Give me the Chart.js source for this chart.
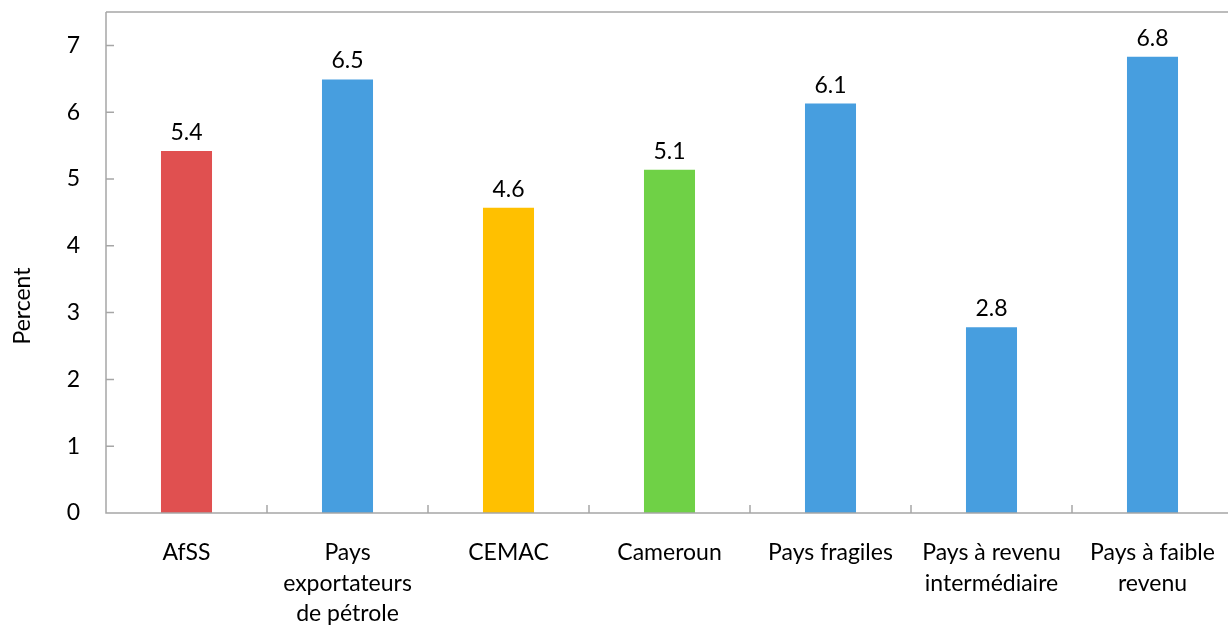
<!DOCTYPE html>
<html>
<head>
<meta charset="utf-8">
<script src="https://cdn.jsdelivr.net/npm/chart.js@4/dist/chart.umd.min.js"></script>
<style>
  html, body { margin: 0; padding: 0; background: #fff; overflow: hidden; }
  #wrap { width: 1240px; height: 627px; }
</style>
</head>
<body>
<div id="wrap"><canvas id="chart"></canvas></div>
<script>
// Data
const categories = [
  'AfSS',
  ['Pays', 'exportateurs', 'de pétrole'],
  'CEMAC',
  'Cameroun',
  'Pays fragiles',
  ['Pays à revenu', 'intermédiaire'],
  ['Pays à faible', 'revenu']
];
const values = [5.42, 6.49, 4.57, 5.14, 6.13, 2.78, 6.83];
const valueLabels = ['5.4', '6.5', '4.6', '5.1', '6.1', '2.8', '6.8'];
const barColors = ['#E05050', '#479EDF', '#FFC000', '#6FD146', '#479EDF', '#479EDF', '#479EDF'];
const yTicks = [0, 1, 2, 3, 4, 5, 6, 7];

const FONT = 'Lato';
const FONT_SIZE = 23;
const AXIS = '#A6A6A6';

// frame, inner tick marks, value labels and axis title
const decorations = {
  id: 'decorations',
  afterDatasetsDraw(chart) {
    const ctx = chart.ctx;
    const area = chart.chartArea;
    const xs = chart.scales.x;
    const ys = chart.scales.y;
    ctx.save();
    ctx.strokeStyle = AXIS;
    ctx.lineWidth = 1.5;
    ctx.beginPath();
    ctx.moveTo(area.left, area.top);
    ctx.lineTo(area.right, area.top);
    ctx.moveTo(area.left, area.top);
    ctx.lineTo(area.left, area.bottom);
    ctx.lineTo(area.right, area.bottom);
    yTicks.forEach(v => {
      const y = ys.getPixelForValue(v);
      ctx.moveTo(area.left, y);
      ctx.lineTo(area.left + 8, y);
    });
    for (let i = 1; i <= categories.length; i++) {
      const x = xs.getPixelForValue(i - 0.5);
      ctx.moveTo(x, area.bottom);
      ctx.lineTo(x, area.bottom - 8);
    }
    ctx.stroke();

    // value labels
    ctx.fillStyle = '#000';
    ctx.font = FONT_SIZE + 'px "' + FONT + '"';
    ctx.textAlign = 'center';
    ctx.textBaseline = 'alphabetic';
    chart.getDatasetMeta(0).data.forEach((bar, i) => {
      ctx.fillText(valueLabels[i], bar.x, bar.y - 11);
    });

    // y title
    ctx.translate(23, 306);
    ctx.rotate(-Math.PI / 2);
    ctx.textBaseline = 'middle';
    ctx.fillText('Percent', 0, 0);
    ctx.restore();
  }
};

new Chart(document.getElementById('chart'), {
  type: 'bar',
  data: {
    labels: categories,
    datasets: [{
      data: values,
      backgroundColor: barColors,
      borderWidth: 0,
      barPercentage: 0.317,
      categoryPercentage: 1
    }]
  },
  options: {
    responsive: true,
    maintainAspectRatio: false,
    animation: false,
    layout: { padding: { top: 12, right: 7, left: 0, bottom: 0 } },
    plugins: {
      legend: { display: false },
      tooltip: { enabled: false }
    },
    scales: {
      x: {
        grid: { display: false, drawTicks: false },
        border: { display: false },
        ticks: {
          color: '#000',
          padding: 24,
          maxRotation: 0,
          autoSkip: false,
          font: { family: FONT, size: FONT_SIZE, lineHeight: 1.34 }
        },
        afterFit(scale) {
          scale.height = 114;
          scale.paddingLeft = 0;
          scale.paddingRight = 0;
        }
      },
      y: {
        min: 0,
        max: 7.5,
        grid: { display: false, drawTicks: false },
        border: { display: false },
        afterBuildTicks(scale) {
          scale.ticks = yTicks.map(v => ({ value: v }));
        },
        ticks: {
          color: '#000',
          padding: 26,
          font: { family: FONT, size: FONT_SIZE }
        },
        afterFit(scale) {
          scale.width = 106;
          scale.paddingTop = 0;
          scale.paddingBottom = 0;
        }
      }
    }
  },
  plugins: [decorations]
});
</script>
</body>
</html>
